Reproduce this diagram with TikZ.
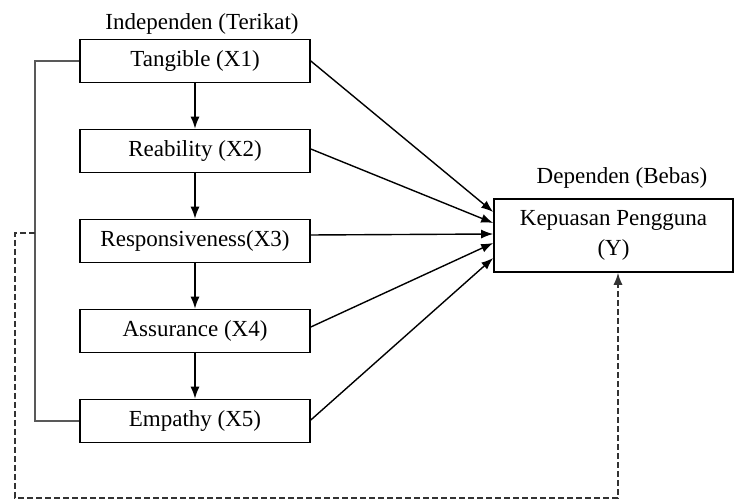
\documentclass[tikz,border=0pt]{standalone}
\usepackage{fontspec}
\setmainfont{Liberation Serif}
\usetikzlibrary{arrows.meta}

\begin{document}
\begin{tikzpicture}[x=0.5pt,y=-0.5pt,->,>={Latex[length=6pt,width=4.5pt]},node distance=45pt,
    font=\fontsize{11.5}{15}\selectfont,
    var node/.style={draw,thick,minimum width=115pt,minimum height=21.5pt,inner sep=0pt},
    dep node/.style={draw,thick,minimum width=119.5pt,minimum height=36.5pt,align=center,inner sep=0pt},
    link/.style={line width=0.7pt}]

    \useasboundingbox (0,0) rectangle (735,501);

    \node[var node] (x1) at (195,61) {Tangible (X1)};
    \node[var node] (x2) [below of = x1] {Reability (X2)};
    \node[var node] (x3) [below of = x2] {Responsiveness(X3)};
    \node[var node] (x4) [below of = x3] {Assurance (X4)};
    \node[var node] (x5) [below of = x4] {Empathy (X5)};
    \node[dep node] (y) at (613.5,235.5) {Kepuasan Pengguna\\(Y)};

    \node[] (indep) at (202,24) {Independen (Terikat)};
    \node[] (dep) at (622,178) {Dependen (Bebas)};

    % arrows between the X boxes
    \path[link]
        (x1) edge (x2)
        (x2) edge (x3)
        (x3) edge (x4)
        (x4) edge (x5)
    ;

    % arrows into Y
    \draw[link] (x1.east) -- ([yshift=11.75pt]y.west);
    \draw[link] ([yshift=1pt]x2.east) -- ([yshift=6.25pt]y.west);
    \draw[link] ([yshift=3pt]x3.east) -- ([yshift=0.75pt]y.west);
    \draw[link] ([yshift=2pt]x4.east) -- ([yshift=-3.75pt]y.west);
    \draw[link] ([yshift=0.5pt]x5.east) -- ([yshift=-11.25pt]y.west);

    % bracket round X1..X5
    \draw[-,gray!70!black,line width=0.8pt] (x1.west) -| (35,233) |- (x5.west);
    \coordinate (tap) at (35,233);
    \coordinate (bend) at (15,498);
    \draw[link,dash pattern=on 3pt off 1.5pt,black!80] (tap) -| (bend) -| ([xshift=2.25pt]y.south);

\end{tikzpicture}
\end{document}
